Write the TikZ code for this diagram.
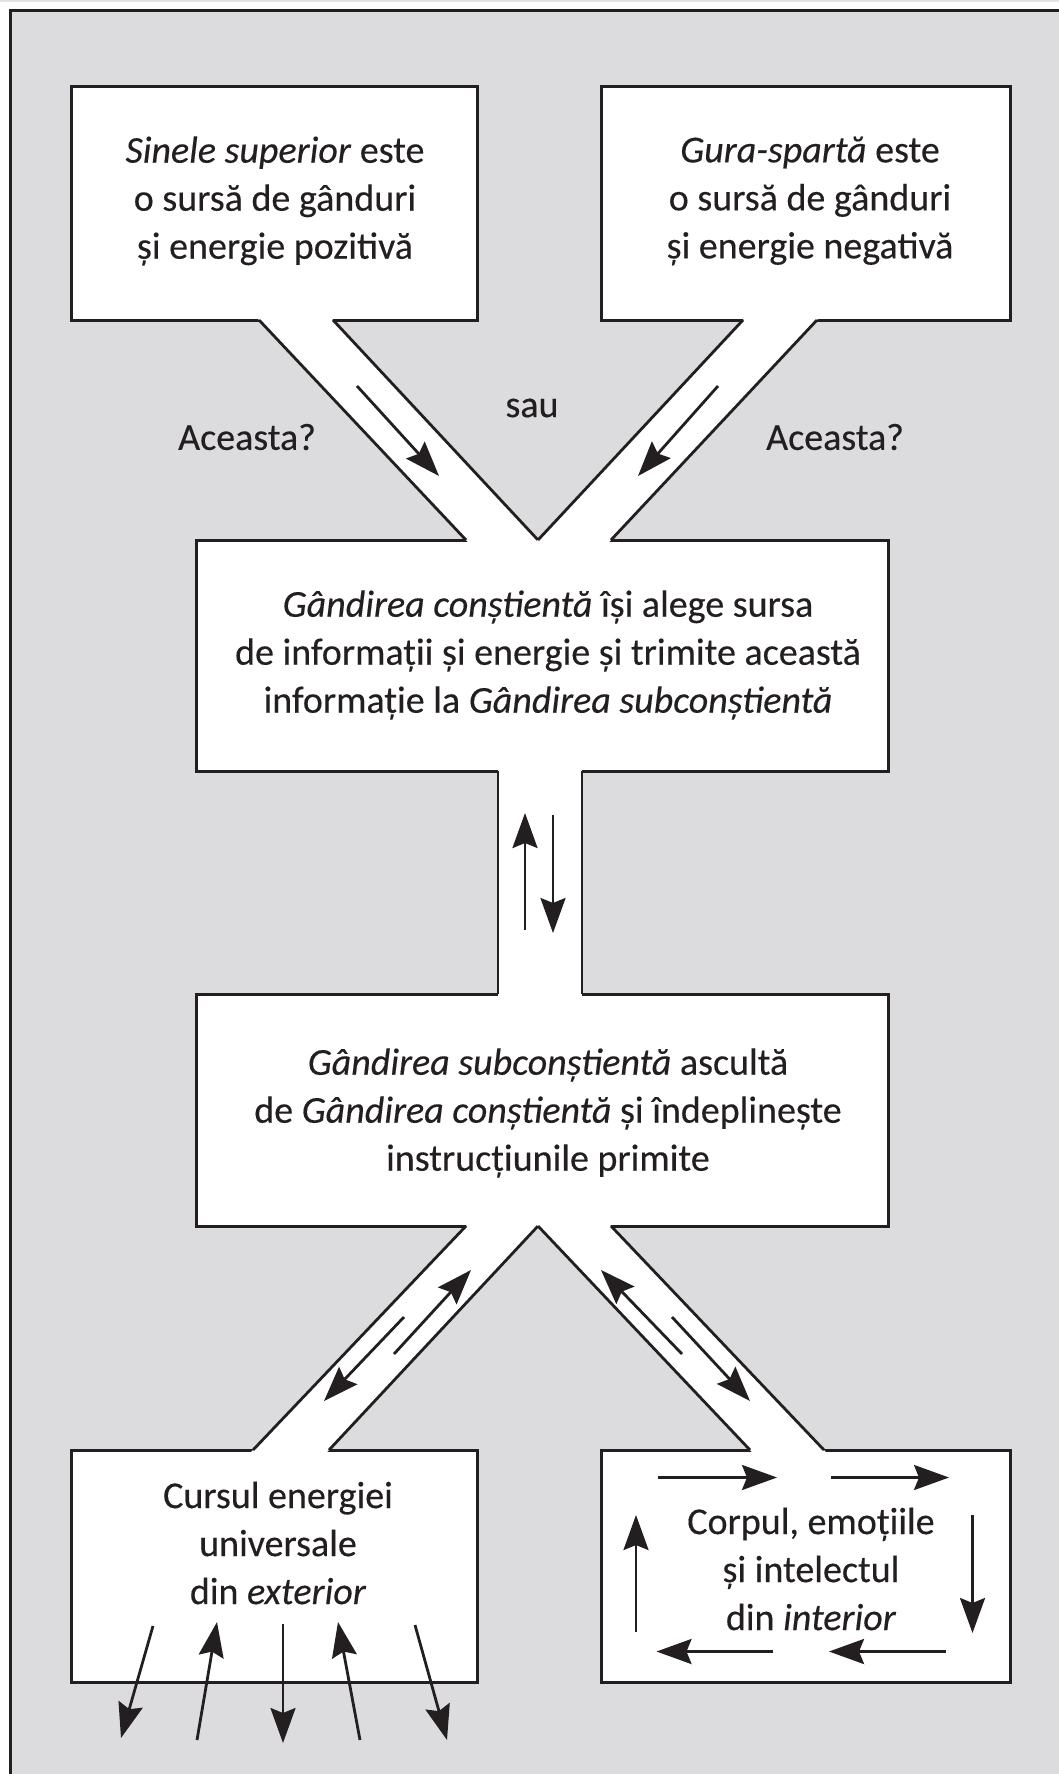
\documentclass[tikz,border=0pt]{standalone}
\usepackage{fontspec}
\setmainfont{Carlito}[FakeBold=0.3]
\usetikzlibrary{arrows.meta,calc}
\definecolor{ink}{RGB}{35,31,32}
\definecolor{panel}{RGB}{220,220,222}
\definecolor{rim}{RGB}{226,226,228}

% a white pipe between two boxes: #1--#3 and #2--#4 are its two walls
\newcommand\pipe[4]{%
  \fill[white] ($(#1)!-3pt!(#3)$) -- ($(#2)!-3pt!(#4)$) -- ($(#4)!-3pt!(#2)$) -- ($(#3)!-3pt!(#1)$) -- cycle;
  \draw[wall] (#1) -- (#3) (#2) -- (#4);
}

\begin{document}
\begin{tikzpicture}[x=1pt,y=-1pt,
  box/.style={draw=ink, line width=3pt, fill=white, outer sep=0pt, inner sep=0pt},
  wall/.style={draw=ink, line width=2.8pt},
  txt/.style={font=\fontsize{38}{48}\selectfont, align=center, inner sep=0pt, text=ink},
  arr/.style={draw=ink, line width=2.8pt, -{Stealth[length=35pt,width=25pt,inset=5pt]}}
]
\useasboundingbox (0,0) rectangle (1059,1774);
\fill[white] (0,0) rectangle (1059,1774);
\fill[rim] (0,0) rectangle (1059,2);

% grey panel with its frame on top and left
\fill[panel] (10.5,10.5) rectangle (1059,1774);
\draw[ink, line width=3pt] (10.5,1774) -- (10.5,10.5) -- (1059,10.5);

% boxes
\node[box, minimum width=406pt, minimum height=233pt] (tl) at (274,203.5) {};
\node[box, minimum width=409pt, minimum height=233pt] (tr) at (805.5,203.5) {};
\node[box, minimum width=692pt, minimum height=231pt] (mid) at (542,655.5) {};
\node[box, minimum width=692pt, minimum height=232pt] (sub) at (542,1110) {};
\node[box, minimum width=406pt, minimum height=232pt] (bl) at (274,1566) {};
\node[box, minimum width=409pt, minimum height=232pt] (br) at (805.5,1566) {};

% pipe mouths on the boxes
\coordinate (tlA) at ($(tl.south west)+(188,0)$);
\coordinate (tlB) at ($(tl.south west)+(262,0)$);
\coordinate (trA) at ($(tr.south west)+(142,0)$);
\coordinate (trB) at ($(tr.south west)+(216,0)$);
\coordinate (mA) at ($(mid.north west)+(270,0)$);
\coordinate (mApex) at ($(mid.north west)+(342,0)$);
\coordinate (mB) at ($(mid.north west)+(415,0)$);
\coordinate (mS1) at ($(mid.south west)+(302,0)$);
\coordinate (mS2) at ($(mid.south west)+(386,0)$);
\coordinate (sN1) at ($(sub.north west)+(302,0)$);
\coordinate (sN2) at ($(sub.north west)+(386,0)$);
\coordinate (sA) at ($(sub.south west)+(270,0)$);
\coordinate (sApex) at ($(sub.south west)+(342,0)$);
\coordinate (sB) at ($(sub.south west)+(415,0)$);
\coordinate (blA) at ($(bl.north west)+(182,0)$);
\coordinate (blB) at ($(bl.north west)+(258,0)$);
\coordinate (brA) at ($(br.north west)+(149,0)$);
\coordinate (brB) at ($(br.north west)+(223,0)$);

% pipes
\pipe{tlA}{tlB}{mA}{mApex}
\pipe{trA}{trB}{mApex}{mB}
\pipe{mS1}{mS2}{sN1}{sN2}
\pipe{sA}{sApex}{blA}{blB}
\pipe{sApex}{sB}{brA}{brB}

% texts
\node[txt] (tlT) at (275,201) {\textit{Sinele superior} este\\o sursă de gânduri\\și energie pozitivă};
\node[txt] (trT) at (810,201) {\textit{Gura-spartă} este\\o sursă de gânduri\\și energie negativă};
\node[txt] (midT) at (548,655) {\textit{Gândirea conștientă} își alege sursa\\de informații și energie și trimite această\\informație la \textit{Gândirea subconștientă}};
\node[txt] (subT) at (548,1113) {\textit{Gândirea subconștientă} ascultă\\de \textit{Gândirea conștientă} și îndeplinește\\instrucțiunile primite};
\node[txt] (blT) at (278,1543) {Cursul energiei\\universale\\din \textit{exterior}};
\node[txt] (brT) at (811,1569) {Corpul, emoțiile\\și intelectul\\din \textit{interior}};

\node[txt] (askL) at (247,437) {Aceasta?};
\node[txt] (or) at (532,408) {sau};
\node[txt] (askR) at (835,437) {Aceasta?};

% flow arrows in the pipes
\draw[arr] (357,386) -- (439,476);
\draw[arr] (718,386) -- (638,476);
\draw[arr] (525,930) -- (525,813);
\draw[arr] (553,815) -- (553,933);
\draw[arr] (394,1354) -- (471,1270);
\draw[arr] (404,1317) -- (324,1401);
\draw[arr] (682,1354) -- (601,1270);
\draw[arr] (672,1317) -- (750,1401);

% energy going in and out of the outer box
\draw[arr] (153,1626) -- (121,1738);
\draw[arr] (197,1740) -- (217,1622);
\draw[arr] (283,1624) -- (283,1743);
\draw[arr] (360,1740) -- (338,1622);
\draw[arr] (415,1625) -- (447,1740);

% circulation inside the inner box
\draw[arr] (658,1477.5) -- (777,1477.5);
\draw[arr] (831,1477.5) -- (949,1477.5);
\draw[arr] (972.5,1515) -- (972.5,1633);
\draw[arr] (945.5,1651.5) -- (829,1651.5);
\draw[arr] (773,1651.5) -- (656.5,1651.5);
\draw[arr] (636,1632) -- (636,1515);
\end{tikzpicture}
\end{document}
